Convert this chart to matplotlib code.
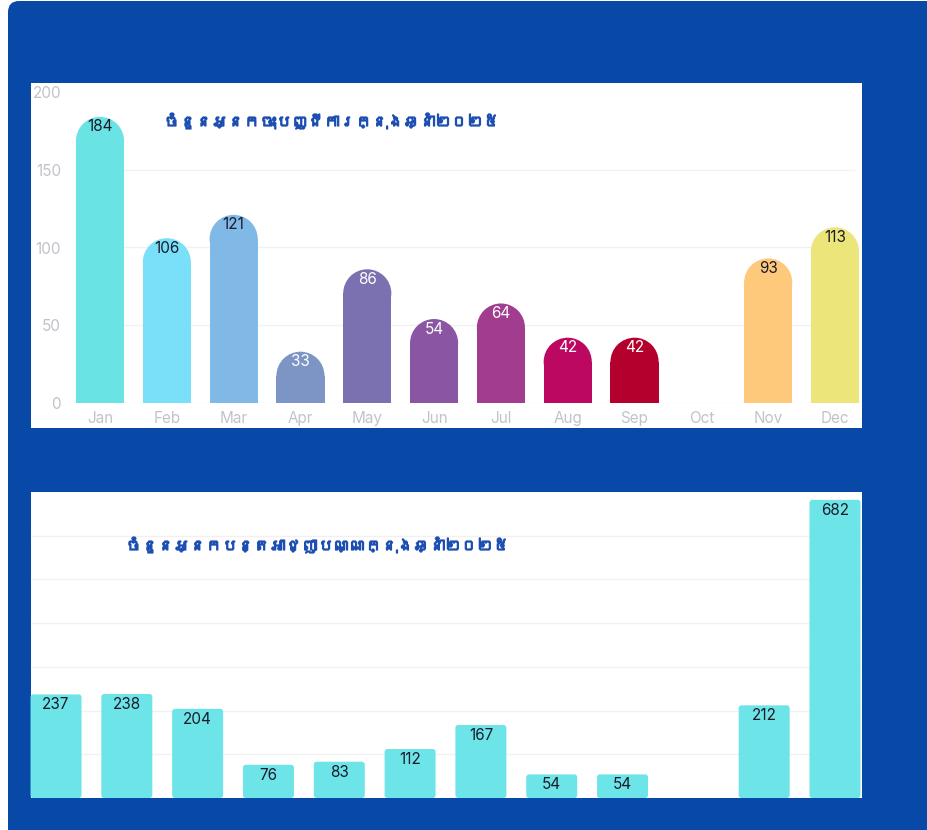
import matplotlib
matplotlib.use("Agg")
import matplotlib.pyplot as plt
import matplotlib.patheffects as pe
from matplotlib import font_manager
from matplotlib.ft2font import FT2Font
from matplotlib.patches import Rectangle, FancyBboxPatch, Ellipse

# data
months = ["Jan", "Feb", "Mar", "Apr", "May", "Jun", "Jul", "Aug", "Sep", "Oct", "Nov", "Dec"]
registered = [184, 106, 121, 33, 86, 54, 64, 42, 42, 0, 93, 113]
renewed = [237, 238, 204, 76, 83, 112, 167, 54, 54, 0, 212, 682]
title_top = "ចំនួនអ្នកចុះបញ្ជីការក្នុងឆ្នាំ២០២៥"
title_bottom = "ចំនួនអ្នកបន្តអាជ្ញាបណ្ណក្នុងឆ្នាំ២០២៥"

bar_colors = ["#6ae3e5", "#7adff9", "#80b8e6", "#7d95c4", "#7c71b0", "#8a56a3",
              "#a23c8f", "#bd0862", "#b3002c", "#cccccc", "#fec97a", "#ebe57a"]
label_colors = ["#1b1b2a", "#1b1b2a", "#1b1b2a", "white", "white", "white",
                "white", "white", "white", "white", "#1b1b2a", "#1b1b2a"]
BLUE = "#0849a8"
TITLE_BLUE = "#1d4fb3"
W, H = 928, 830


# find a font that has Khmer glyphs, if there is one
def find_khmer_font():
    for f in font_manager.fontManager.ttflist:
        try:
            if 0x1785 in FT2Font(f.fname).get_charmap():
                return f.name
        except Exception:
            pass
    return None


khmer = find_khmer_font()
title_family = [khmer, "DejaVu Sans"] if khmer else ["DejaVu Sans"]
plt.rcParams["font.family"] = ["Inter", "DejaVu Sans"]


def fx(px):
    return px / W


def fy(py):
    return 1 - py / H


fig = plt.figure(figsize=(W / 100, H / 100), dpi=100)
fig.patch.set_facecolor("white")

# blue background with rounded top-left corner
fig.patches.append(FancyBboxPatch((fx(8), fy(900)), fx(1000), (900 - 1) / H,
                                  boxstyle="round,pad=0,rounding_size=0.012",
                                  mutation_aspect=W / H,
                                  transform=fig.transFigure, facecolor=BLUE,
                                  edgecolor="none", zorder=0.1))
# white panels
fig.patches.append(Rectangle((fx(31), fy(428)), fx(862 - 31), (428 - 83) / H,
                             transform=fig.transFigure, facecolor="white",
                             edgecolor="none", zorder=0.5))
fig.patches.append(Rectangle((fx(31), fy(798)), fx(862 - 31), (798 - 492) / H,
                             transform=fig.transFigure, facecolor="white",
                             edgecolor="none", zorder=0.5))

bold = [pe.withStroke(linewidth=0.9, foreground=TITLE_BLUE)]

# ---- top chart: rounded bars
ax1 = fig.add_axes([fx(66.6), fy(403), fx(868.4 - 66.6), (403 - 92) / H])
ax1.set_zorder(2)
ax1.set_facecolor("none")
ax1.set_xlim(-0.5, 11.5)
ax1.set_ylim(0, 200)
bw = 0.72
px_x = (868.4 - 66.6) / 12
px_y = (403 - 92) / 200
r = bw * px_x / 2 / px_y  # radius in y units so the cap looks round
ax1.hlines([0, 50, 100, 150], -0.35, 11.3, color="#f1f1f4", linewidth=1, zorder=1)
for i, v in enumerate(registered):
    if v <= 0:
        continue
    ax1.bar(i, v - r, width=bw, color=bar_colors[i], zorder=3)
    ax1.add_patch(Ellipse((i, v - r), bw, 2 * r, facecolor=bar_colors[i],
                          edgecolor="none", zorder=3))
    ax1.text(i, v - 6.5, str(v), ha="center", va="center", fontsize=11,
             color=label_colors[i], zorder=4)
ax1.set_xticks(range(12))
ax1.set_xticklabels(months)
ax1.set_yticks([0, 50, 100, 150, 200])
ax1.tick_params(length=0, labelsize=11, colors="#c2c2cb", pad=4)
ax1.tick_params(axis="x", pad=6)
for s in ax1.spines.values():
    s.set_visible(False)
ax1.text((332 - 66.6) / (868.4 - 66.6), 1 - (121 - 92) / 311, title_top,
         transform=ax1.transAxes, ha="center", va="center",
         fontsize=11.5, color=TITLE_BLUE, family=title_family, path_effects=bold)

# ---- bottom chart
ax2 = fig.add_axes([fx(20.6), fy(798), fx(870.4 - 20.6), (798 - 492) / H])
ax2.set_zorder(2)
ax2.set_facecolor("none")
ax2.set_xlim(-0.5, 11.5)
ax2.set_ylim(0, 700)
ax2.hlines([100, 200, 300, 400, 500, 600], -0.35, 11.36, color="#f1f1f4",
           linewidth=1, zorder=1)
for i, v in enumerate(renewed):
    if v <= 0:
        continue
    bar = FancyBboxPatch((i - bw / 2, 0), bw, v,
                         boxstyle="round,pad=0,rounding_size=0.04",
                         mutation_aspect=700 / 306 * 70.8,
                         facecolor="#6de5e8", edgecolor="none", zorder=3)
    ax2.add_patch(bar)
    ax2.text(i, v - 24, str(v), ha="center", va="center", fontsize=11,
             color="#1b1b2a", zorder=4)
ax2.set_xticks([])
ax2.set_yticks([])
for s in ax2.spines.values():
    s.set_visible(False)
ax2.text((318 - 20.6) / 850, 1 - (545 - 492) / 306, title_bottom,
         transform=ax2.transAxes, ha="center", va="center",
         fontsize=11.5, color=TITLE_BLUE, family=title_family, path_effects=bold)

fig.savefig("out.png", dpi=100, facecolor=fig.get_facecolor())
